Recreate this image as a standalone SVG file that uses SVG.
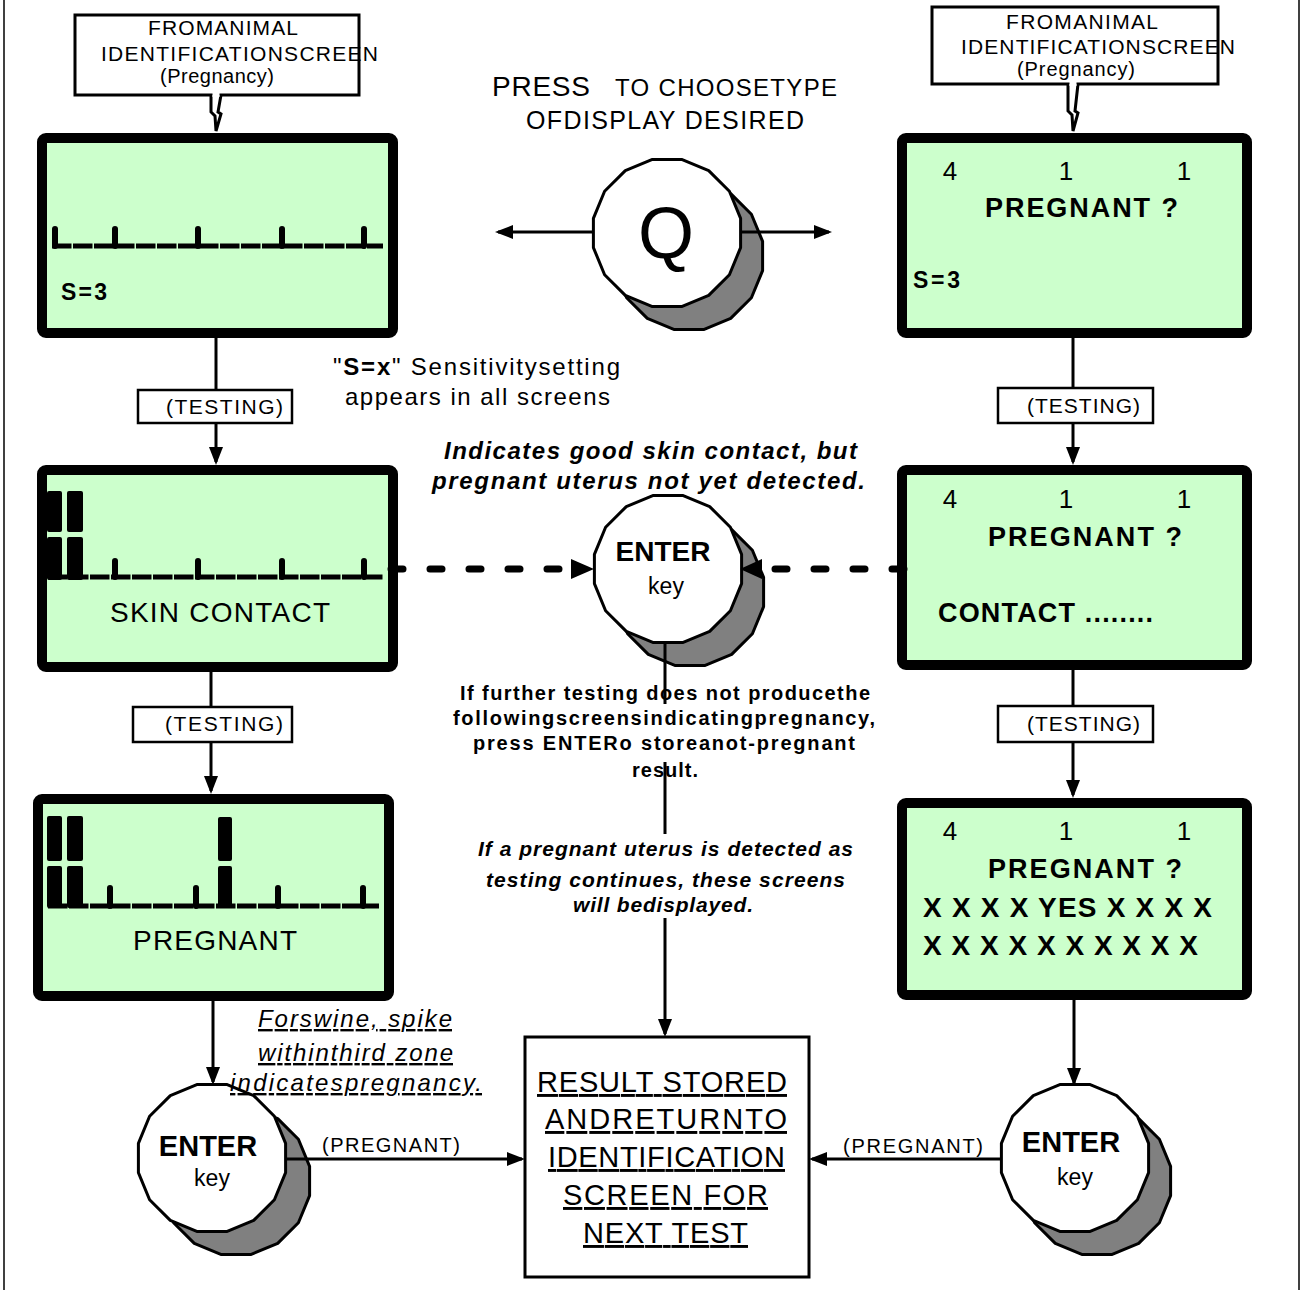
<svg xmlns="http://www.w3.org/2000/svg" width="1305" height="1290" viewBox="0 0 1305 1290">
<defs>
<style>
.t{font-family:"Liberation Sans",Arial,sans-serif;fill:#000}
.b{font-weight:bold}
.i{font-style:italic}
.u{text-decoration:underline}
.scr{fill:#CCFFCC;stroke:#000;stroke-width:10}
.box{fill:#fff;stroke:#000;stroke-width:2.5}
.cb{fill:#fff;stroke:#000;stroke-width:3}
.ln{fill:none;stroke:#000;stroke-width:3}
.dot{fill:none;stroke:#000;stroke-width:7;stroke-linecap:round;stroke-dasharray:12 27}
.face{fill:#fff;stroke:#000;stroke-width:3;stroke-linejoin:round}
.shadow{fill:#808080;stroke:#000;stroke-width:3;stroke-linejoin:round}
.base{stroke:#000;stroke-width:5;stroke-dasharray:19.5 1.5}
.tick{stroke:#000;stroke-width:6;stroke-linecap:round}
.bar{fill:#000}
</style>
<marker id="ah" markerUnits="userSpaceOnUse" markerWidth="18" markerHeight="14" refX="15" refY="7" orient="auto"><path d="M0,0 L18,7 L0,14 z" fill="#000"/></marker>
<polygon id="poly" points="73.6,14.6 62.4,41.7 41.7,62.4 14.6,73.6 -14.6,73.6 -41.7,62.4 -62.4,41.7 -73.6,14.6 -73.6,-14.6 -62.4,-41.7 -41.7,-62.4 -14.6,-73.6 14.6,-73.6 41.7,-62.4 62.4,-41.7 73.6,-14.6"/>
</defs>
<rect width="1305" height="1290" fill="#fff"/>
<g id="frame">
<line x1="4" y1="0" x2="4" y2="1290" stroke="#000" stroke-width="1.5"/>
<line x1="1299" y1="0" x2="1299" y2="1290" stroke="#000" stroke-width="1.5"/>
</g>

<!-- callouts -->
<g id="callout-left">
<rect class="cb" x="75" y="15" width="284" height="80"/>
<path class="cb" d="M211,95 V112 L215,116 L216,131 L221,114 L218,112 L221,95"/>
<rect x="212.5" y="93" width="7" height="4" fill="#fff"/>
<text class="t" x="148" y="35" font-size="21" textLength="150" lengthAdjust="spacing">FROMANIMAL</text>
<text class="t" x="101" y="61" font-size="21" textLength="277" lengthAdjust="spacing">IDENTIFICATIONSCREEN</text>
<text class="t" x="160" y="83" font-size="20" textLength="114" lengthAdjust="spacing">(Pregnancy)</text>
</g>
<g id="callout-right">
<rect class="cb" x="932" y="7" width="286" height="77"/>
<path class="cb" d="M1068,84 V111 L1072,115 L1073,131 L1078,113 L1075,111 L1078,84"/>
<rect x="1069.5" y="82" width="7" height="4" fill="#fff"/>
<text class="t" x="1006" y="29" font-size="21" textLength="152" lengthAdjust="spacing">FROMANIMAL</text>
<text class="t" x="961" y="54" font-size="21" textLength="274" lengthAdjust="spacing">IDENTIFICATIONSCREEN</text>
<text class="t" x="1017" y="76" font-size="20" textLength="118" lengthAdjust="spacing">(Pregnancy)</text>
</g>

<!-- left screens -->
<g id="screen-l1">
<rect class="scr" x="42" y="138" width="351" height="195" rx="4"/>
<line class="base" x1="52" y1="246" x2="383" y2="246"/>
<line class="tick" x1="55" y1="229" x2="55" y2="246"/>
<line class="tick" x1="115" y1="229" x2="115" y2="246"/>
<line class="tick" x1="198" y1="229" x2="198" y2="246"/>
<line class="tick" x1="282" y1="229" x2="282" y2="246"/>
<line class="tick" x1="364" y1="229" x2="364" y2="246"/>
<text class="t b" x="61" y="300" font-size="23" textLength="46" lengthAdjust="spacing">S=3</text>
</g>
<g id="screen-l2">
<rect class="scr" x="42" y="470" width="351" height="197" rx="4"/>
<line class="base" x1="48" y1="577" x2="383" y2="577"/>
<rect class="bar" x="47" y="491" width="15" height="41" rx="2"/>
<rect class="bar" x="47" y="537" width="15" height="43" rx="2"/>
<rect class="bar" x="67" y="491" width="16" height="41" rx="2"/>
<rect class="bar" x="67" y="537" width="16" height="43" rx="2"/>
<line class="tick" x1="115" y1="561" x2="115" y2="577"/>
<line class="tick" x1="198" y1="561" x2="198" y2="577"/>
<line class="tick" x1="282" y1="561" x2="282" y2="577"/>
<line class="tick" x1="364" y1="561" x2="364" y2="577"/>
<text class="t" x="110" y="622" font-size="28" textLength="220" lengthAdjust="spacing">SKIN CONTACT</text>
</g>
<g id="screen-l3">
<rect class="scr" x="38" y="799" width="351" height="197" rx="4"/>
<line class="base" x1="48" y1="906" x2="379" y2="906"/>
<rect class="bar" x="47" y="816" width="15" height="45" rx="2"/>
<rect class="bar" x="47" y="866" width="15" height="42" rx="2"/>
<rect class="bar" x="67" y="816" width="16" height="45" rx="2"/>
<rect class="bar" x="67" y="866" width="16" height="42" rx="2"/>
<rect class="bar" x="218" y="817" width="14" height="44" rx="2"/>
<rect class="bar" x="218" y="866" width="14" height="42" rx="2"/>
<line class="tick" x1="110" y1="888" x2="110" y2="906"/>
<line class="tick" x1="196" y1="888" x2="196" y2="906"/>
<line class="tick" x1="278" y1="888" x2="278" y2="906"/>
<line class="tick" x1="363" y1="888" x2="363" y2="906"/>
<text class="t" x="133" y="950" font-size="28" textLength="164" lengthAdjust="spacing">PREGNANT</text>
</g>

<!-- right screens -->
<g id="screen-r1">
<rect class="scr" x="902" y="138" width="345" height="195" rx="4"/>
<text class="t" x="950" y="180" font-size="26" text-anchor="middle">4</text>
<text class="t" x="1066" y="180" font-size="26" text-anchor="middle">1</text>
<text class="t" x="1184" y="180" font-size="26" text-anchor="middle">1</text>
<text class="t b" x="985" y="217" font-size="27" textLength="193" lengthAdjust="spacing">PREGNANT ?</text>
<text class="t b" x="913" y="288" font-size="23" textLength="47" lengthAdjust="spacing">S=3</text>
</g>
<g id="screen-r2">
<rect class="scr" x="902" y="470" width="345" height="195" rx="4"/>
<text class="t" x="950" y="508" font-size="26" text-anchor="middle">4</text>
<text class="t" x="1066" y="508" font-size="26" text-anchor="middle">1</text>
<text class="t" x="1184" y="508" font-size="26" text-anchor="middle">1</text>
<text class="t b" x="988" y="546" font-size="27" textLength="194" lengthAdjust="spacing">PREGNANT ?</text>
<text class="t b" x="938" y="622" font-size="27" textLength="215" lengthAdjust="spacing">CONTACT ........</text>
</g>
<g id="screen-r3">
<rect class="scr" x="902" y="803" width="345" height="192" rx="4"/>
<text class="t" x="950" y="840" font-size="26" text-anchor="middle">4</text>
<text class="t" x="1066" y="840" font-size="26" text-anchor="middle">1</text>
<text class="t" x="1184" y="840" font-size="26" text-anchor="middle">1</text>
<text class="t b" x="988" y="878" font-size="27" textLength="194" lengthAdjust="spacing">PREGNANT ?</text>
<text class="t b" x="923" y="917" font-size="28" textLength="289" lengthAdjust="spacing">X X X X YES X X X X</text>
<text class="t b" x="923" y="955" font-size="28" textLength="275" lengthAdjust="spacing">X X X X X X X X X X</text>
</g>

<!-- testing boxes -->
<g id="testing-l1"><rect class="box" x="138" y="390" width="154" height="33"/><text class="t" x="166" y="414" font-size="21" textLength="117" lengthAdjust="spacing">(TESTING)</text></g>
<g id="testing-l2"><rect class="box" x="133" y="707" width="159" height="35"/><text class="t" x="165" y="731" font-size="21" textLength="118" lengthAdjust="spacing">(TESTING)</text></g>
<g id="testing-r1"><rect class="box" x="998" y="388" width="155" height="35"/><text class="t" x="1027" y="413" font-size="21" textLength="113" lengthAdjust="spacing">(TESTING)</text></g>
<g id="testing-r2"><rect class="box" x="998" y="706" width="155" height="36"/><text class="t" x="1027" y="731" font-size="21" textLength="113" lengthAdjust="spacing">(TESTING)</text></g>

<!-- buttons -->
<g id="btn-q">
<use href="#poly" class="shadow" x="689" y="256"/>
<use href="#poly" class="face" x="667" y="233"/>
<text class="t" x="666" y="258" font-size="72" text-anchor="middle">Q</text>
</g>
<g id="btn-enter-center">
<use href="#poly" class="shadow" x="690" y="592"/>
<use href="#poly" class="face" x="668" y="569"/>
<text class="t b" x="663" y="561" font-size="28" text-anchor="middle">ENTER</text>
<text class="t" x="666" y="594" font-size="23" text-anchor="middle">key</text>
</g>
<g id="btn-enter-left">
<use href="#poly" class="shadow" x="236" y="1181"/>
<use href="#poly" class="face" x="212" y="1158"/>
<text class="t b" x="208" y="1156" font-size="29" text-anchor="middle">ENTER</text>
<text class="t" x="212" y="1186" font-size="23" text-anchor="middle">key</text>
</g>
<g id="btn-enter-right">
<use href="#poly" class="shadow" x="1097" y="1181"/>
<use href="#poly" class="face" x="1075" y="1158"/>
<text class="t b" x="1071" y="1152" font-size="29" text-anchor="middle">ENTER</text>
<text class="t" x="1075" y="1185" font-size="23" text-anchor="middle">key</text>
</g>

<!-- result -->
<g id="result">
<rect class="cb" x="525" y="1037" width="284" height="240"/>
<text class="t u" x="537" y="1092" font-size="29" textLength="250" lengthAdjust="spacing">RESULT  STORED</text>
<text class="t u" x="545" y="1129" font-size="29" textLength="242" lengthAdjust="spacing">ANDRETURNTO</text>
<text class="t u" x="548" y="1167" font-size="29" textLength="237" lengthAdjust="spacing">IDENTIFICATION</text>
<text class="t u" x="563" y="1205" font-size="29" textLength="205" lengthAdjust="spacing">SCREEN  FOR</text>
<text class="t u" x="583" y="1243" font-size="29" textLength="165" lengthAdjust="spacing">NEXT TEST</text>
</g>

<!-- connectors -->
<g id="connectors">
<path class="ln" d="M216,338 V390"/>
<path class="ln" d="M216,423 V462" marker-end="url(#ah)"/>
<path class="ln" d="M211,672 V707"/>
<path class="ln" d="M211,742 V791" marker-end="url(#ah)"/>
<path class="ln" d="M213,1001 V1082" marker-end="url(#ah)"/>
<path class="ln" d="M1073,338 V388"/>
<path class="ln" d="M1073,423 V462" marker-end="url(#ah)"/>
<path class="ln" d="M1073,670 V706"/>
<path class="ln" d="M1073,742 V795" marker-end="url(#ah)"/>
<path class="ln" d="M1074,1000 V1083" marker-end="url(#ah)"/>
<path class="ln" d="M594,232 H498" marker-end="url(#ah)"/>
<path class="ln" d="M741,232 H829" marker-end="url(#ah)"/>
<path class="ln" d="M665,641 V1034" marker-end="url(#ah)"/>
<path class="ln" d="M287,1159 H522" marker-end="url(#ah)"/>
<path class="ln" d="M1002,1159 H812" marker-end="url(#ah)"/>
<path class="dot" d="M391,569 H565"/>
<polygon points="571,559 594,569 571,579" fill="#000"/>
<path class="dot" d="M904,569 H772"/>
<polygon points="762,559 740,569 762,579" fill="#000"/>
<text class="t" x="322" y="1152" font-size="20" textLength="138" lengthAdjust="spacing">(PREGNANT)</text>
<text class="t" x="843" y="1153" font-size="20" textLength="140" lengthAdjust="spacing">(PREGNANT)</text>
</g>

<!-- annotations -->
<g id="note-press">
<text class="t" x="492" y="96" font-size="28" textLength="98" lengthAdjust="spacing">PRESS</text>
<text class="t" x="615" y="96" font-size="24" textLength="222" lengthAdjust="spacing">TO CHOOSETYPE</text>
<text class="t" x="526" y="129" font-size="25" textLength="278" lengthAdjust="spacing">OFDISPLAY DESIRED</text>
</g>
<g id="note-sx">
<text class="t" x="333" y="375" font-size="24" textLength="287" lengthAdjust="spacing">"<tspan font-weight="bold">S=x</tspan>" Sensitivitysetting</text>
<text class="t" x="345" y="405" font-size="24" textLength="265" lengthAdjust="spacing">appears in all screens</text>
</g>
<g id="note-indicates">
<text class="t b i" x="444" y="459" font-size="24" textLength="413" lengthAdjust="spacing">Indicates good skin contact, but</text>
<text class="t b i" x="432" y="489" font-size="24" textLength="433" lengthAdjust="spacing">pregnant uterus not yet detected.</text>
</g>
<g id="note-further">
<rect x="450" y="704" width="430" height="58" fill="#fff"/>
<text class="t b" x="460" y="700" font-size="20" textLength="410" lengthAdjust="spacing">If further testing does not producethe</text>
<text class="t b" x="453" y="725" font-size="20" textLength="422" lengthAdjust="spacing">followingscreensindicatingpregnancy,</text>
<text class="t b" x="473" y="750" font-size="20" textLength="382" lengthAdjust="spacing">press ENTERo storeanot-pregnant</text>
<text class="t b" x="632" y="777" font-size="20" textLength="66" lengthAdjust="spacing">result.</text>
</g>
<g id="note-detected">
<rect x="470" y="834" width="395" height="84" fill="#fff"/>
<text class="t b i" x="478" y="856" font-size="21" textLength="375" lengthAdjust="spacing">If a pregnant uterus is detected as</text>
<text class="t b i" x="486" y="887" font-size="21" textLength="359" lengthAdjust="spacing">testing  continues, these  screens</text>
<text class="t b i" x="573" y="912" font-size="21" textLength="180" lengthAdjust="spacing">will bedisplayed.</text>
</g>
<g id="note-swine">
<text class="t i u" x="258" y="1027" font-size="24" textLength="194" lengthAdjust="spacing">Forswine, spike</text>
<text class="t i u" x="258" y="1061" font-size="24" textLength="195" lengthAdjust="spacing">withinthird zone</text>
<text class="t i u" x="230" y="1091" font-size="24" textLength="252" lengthAdjust="spacing">indicatespregnancy.</text>
</g>
</svg>
